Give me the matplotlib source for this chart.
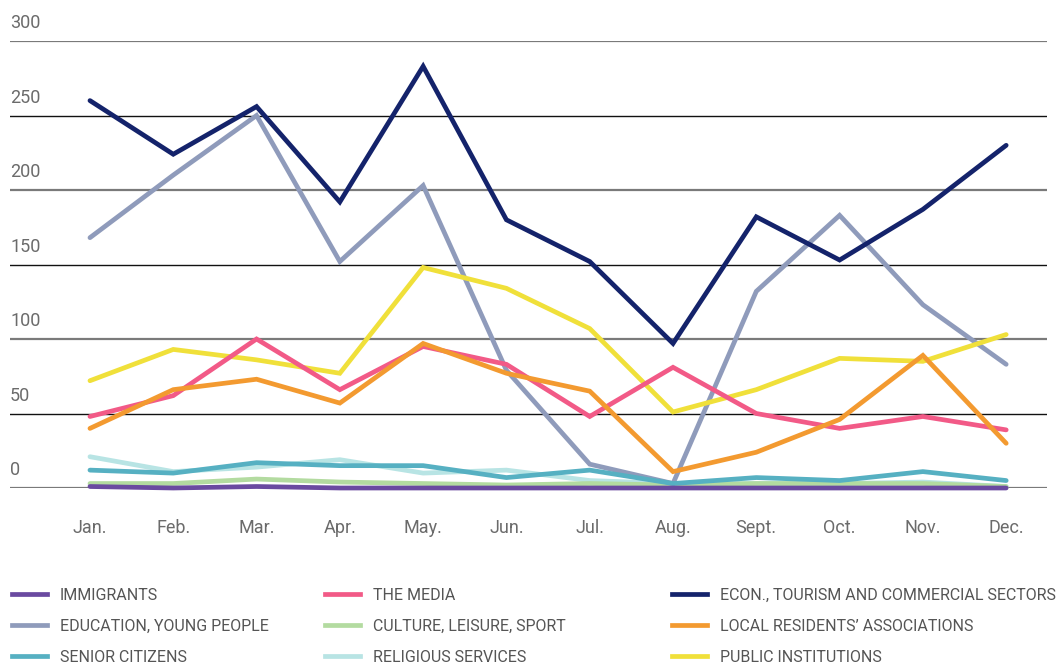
import numpy as np
import matplotlib.pyplot as plt
from matplotlib.lines import Line2D
from matplotlib.transforms import blended_transform_factory

plt.rcParams['font.family'] = ['Roboto', 'DejaVu Sans']

# meses
months = ["Jan.", "Feb.", "Mar.", "Apr.", "May.", "Jun.", "Jul.", "Aug.",
          "Sept.", "Oct.", "Nov.", "Dec."]

# series
immigrants = [1, 0, 1, 0, 0, 0, 0, 0, 0, 0, 0, 0]
education = [168, 210, 250, 152, 203, 79, 16, 3, 132, 183, 123, 83]
senior = [12, 10, 17, 15, 15, 7, 12, 3, 7, 5, 11, 5]
media = [48, 62, 100, 66, 95, 83, 48, 81, 50, 40, 48, 39]
culture = [3, 3, 6, 4, 3, 2, 3, 2, 3, 3, 3, 1]
religious = [21, 11, 14, 19, 10, 12, 5, 3, 3, 3, 4, 1]
econ = [260, 224, 256, 192, 283, 180, 152, 97, 182, 153, 187, 230]
local = [40, 66, 73, 57, 97, 77, 65, 11, 24, 46, 89, 30]
public = [72, 93, 86, 77, 148, 134, 107, 51, 66, 87, 85, 103]

yticks = [0, 50, 100, 150, 200, 250, 300]

colors = {
    "IMMIGRANTS": "#6a4aa0",
    "EDUCATION, YOUNG PEOPLE": "#8f9bbb",
    "SENIOR CITIZENS": "#56b0c2",
    "THE MEDIA": "#f25a87",
    "CULTURE, LEISURE, SPORT": "#b3dba0",
    "RELIGIOUS SERVICES": "#b8e4e4",
    "ECON., TOURISM AND COMMERCIAL SECTORS": "#14236b",
    "LOCAL RESIDENTS\u2019 ASSOCIATIONS": "#f39a30",
    "PUBLIC INSTITUTIONS": "#f0e03a",
}
series = {
    "IMMIGRANTS": immigrants,
    "EDUCATION, YOUNG PEOPLE": education,
    "SENIOR CITIZENS": senior,
    "THE MEDIA": media,
    "CULTURE, LEISURE, SPORT": culture,
    "RELIGIOUS SERVICES": religious,
    "ECON., TOURISM AND COMMERCIAL SECTORS": econ,
    "LOCAL RESIDENTS\u2019 ASSOCIATIONS": local,
    "PUBLIC INSTITUTIONS": public,
}
draw_order = ["RELIGIOUS SERVICES", "CULTURE, LEISURE, SPORT", "EDUCATION, YOUNG PEOPLE",
              "PUBLIC INSTITUTIONS", "THE MEDIA", "LOCAL RESIDENTS\u2019 ASSOCIATIONS",
              "SENIOR CITIZENS", "ECON., TOURISM AND COMMERCIAL SECTORS", "IMMIGRANTS"]

fig = plt.figure(figsize=(10.59, 6.67), dpi=100)
ax = fig.add_axes([10 / 1059, 1 - 488 / 667, 1037 / 1059, 447 / 667])

x = np.arange(len(months))
for name in draw_order:
    ax.plot(x, series[name], color=colors[name], lw=3.4, clip_on=False,
            solid_capstyle="round", solid_joinstyle="miter")

# lineas horizontales
for v in yticks:
    if v % 100 == 0:
        ax.axhline(v, color="#7a7a7a", lw=1.6, zorder=0)
    else:
        ax.axhline(v, color="#111111", lw=1.0, zorder=0)

tr = blended_transform_factory(ax.transAxes, ax.transData)
for v in yticks:
    ax.text(0.0, v + 6, str(v), transform=tr, ha="left", va="bottom",
            fontsize=13, color="#6b6b6b")

ax.set_xlim(-0.96, 11.49)
ax.set_ylim(0, 300)
for s in ax.spines.values():
    s.set_visible(False)
ax.set_yticks([])
ax.set_xticks(x)
ax.set_xticklabels(months, fontsize=13, color="#6b6b6b")
ax.tick_params(axis="x", length=0, pad=22)

# leyenda en tres columnas
names = list(series.keys())
col_x = [12, 325, 672]
for c in range(3):
    handles = [Line2D([], [], color=colors[n], lw=3.4) for n in names[c * 3:c * 3 + 3]]
    fig.legend(handles, names[c * 3:c * 3 + 3], loc="upper left",
               bbox_to_anchor=(col_x[c] / 1059, 1 - 588 / 667),
               frameon=False, fontsize=11.5, labelcolor="#555555",
               handlelength=2.2, handletextpad=0.8, labelspacing=1.0,
               borderpad=0, borderaxespad=0)

fig.savefig("out.png", dpi=100)
